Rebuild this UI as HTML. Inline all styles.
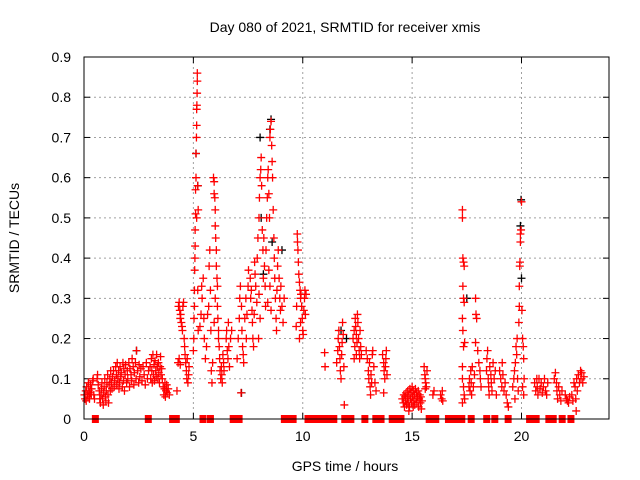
<!DOCTYPE html>
<html><head><meta charset="utf-8"><style>
html,body{margin:0;padding:0;background:#fff;}
svg{display:block;font-family:"Liberation Sans",sans-serif;}
</style></head><body>
<svg id="chart" width="640" height="480" viewBox="0 0 640 480" xmlns="http://www.w3.org/2000/svg">
<rect width="640" height="480" fill="#fff"/>
<text x="345" y="32" font-size="14" text-anchor="middle" fill="#000">Day 080 of 2021, SRMTID for receiver xmis</text>
<text x="345" y="471" font-size="14" text-anchor="middle" fill="#000">GPS time / hours</text>
<text transform="translate(19,238) rotate(-90)" font-size="14" text-anchor="middle" fill="#000">SRMTID / TECUs</text>
<g id="grid"></g>
<g id="ticks"></g>
<g id="black"></g>
<g id="red"></g>
<g id="gaps"></g>
<rect x="84" y="57" width="525" height="362" fill="none" stroke="#000" stroke-width="1"/>
</svg>
<script>
const xTicks = [0,5,10,15,20];
const yTicks = [0,0.1,0.2,0.3,0.4,0.5,0.6,0.7,0.8,0.9];
const yTickLabels = ["0","0.1","0.2","0.3","0.4","0.5","0.6","0.7","0.8","0.9"];
const redPoints = [
[0.02,.06],[0.05,.05],[0.08,.07],[0.1,.045],[0.12,.08],[0.15,.06],[0.18,.055],[0.2,.09],[0.22,.07],[0.25,.05],[0.28,.065],[0.3,.085],[0.33,.06],[0.35,.075],[0.4,.095],[0.42,.1],[0.45,.06],[0.48,.05],
[0.6,.1],[0.62,.11],[0.65,.085],[0.7,.07],[0.72,.05],[0.75,.04],[0.78,.06],[0.8,.075],[0.82,.09],[0.85,.05],[0.88,.035],[0.9,.065],[0.92,.08],[0.95,.1],[0.98,.055],[1.0,.045],[1.02,.07],[1.05,.09],[1.08,.11],[1.1,.06],[1.12,.04],[1.15,.085],[1.18,.1],[1.2,.07],[1.22,.12],[1.25,.09],[1.28,.075],[1.3,.105],
[1.35,.12],[1.38,.08],[1.4,.095],[1.45,.13],[1.48,.11],[1.5,.085],[1.52,.14],[1.55,.1],[1.58,.12],[1.6,.075],[1.62,.09],[1.65,.13],[1.68,.105],[1.7,.115],[1.75,.08],[1.78,.14],[1.8,.095],[1.82,.125],[1.85,.07],[1.88,.11],[1.9,.135],[1.95,.09],[1.98,.12],
[2.0,.1],[2.05,.14],[2.08,.08],[2.1,.125],[2.15,.11],[2.18,.095],[2.2,.15],[2.25,.13],[2.28,.085],[2.3,.115],[2.35,.14],[2.38,.1],[2.4,.17],[2.45,.12],[2.5,.09],[2.52,.135],[2.55,.105],[2.6,.125],[2.65,.095],[2.7,.13],[2.75,.11],[2.8,.085],[2.85,.14],[2.9,.1],[2.95,.12],
[3.02,.13],[3.05,.1],[3.08,.15],[3.1,.12],[3.12,.09],[3.15,.16],[3.18,.11],[3.2,.135],[3.22,.095],[3.25,.145],[3.28,.12],[3.3,.105],[3.32,.16],[3.35,.13],[3.38,.1],[3.4,.14],[3.42,.115],[3.45,.09],[3.48,.13],[3.5,.155],[3.52,.11],[3.55,.125],[3.58,.1],
[3.62,.08],[3.65,.06],[3.68,.075],[3.7,.09],[3.72,.055],[3.75,.07],[3.78,.085],[3.8,.065],[3.85,.075],[3.9,.06],
[4.25,.07],[4.3,.14],[4.35,.15],[4.4,.135],[4.32,.28],[4.35,.29],[4.38,.27],[4.4,.25],[4.42,.26],[4.45,.24],[4.48,.23],[4.5,.22],[4.52,.28],[4.55,.29],[4.58,.2],[4.6,.18],[4.62,.16],[4.65,.14],[4.68,.12],[4.7,.1],[4.72,.15],[4.75,.09],[4.78,.11],[4.8,.13],
[5.0,.17],[5.02,.2],[5.03,.25],[5.05,.28],[5.05,.32],[5.06,.37],[5.07,.4],[5.08,.43],[5.08,.47],[5.1,.51],[5.1,.57],[5.12,.6],[5.12,.66],[5.14,.7],[5.15,.73],[5.15,.77],[5.16,.78],[5.17,.81],[5.18,.84],[5.18,.86],[5.2,.58],[5.22,.52],[5.2,.32],[5.22,.22],[5.15,.5],
[5.3,.23],[5.35,.26],[5.38,.33],[5.4,.3],[5.45,.35],[5.48,.25],[5.5,.2],[5.55,.15],[5.6,.18],[5.65,.26],[5.7,.28],[5.72,.38],[5.75,.42],[5.78,.32],[5.8,.22],[5.82,.12],[5.85,.09],[5.88,.14],
[5.92,.6],[5.95,.59],[5.95,.56],[5.98,.55],[6.0,.52],[6.0,.48],[6.02,.45],[6.05,.42],[6.05,.38],[6.08,.35],[6.1,.33],[6.1,.28],[6.12,.25],[6.15,.22],[6.15,.2],[6.0,.3],[5.95,.24],[6.18,.18],[6.2,.15],[6.22,.12],[6.25,.1],[6.28,.13],[6.3,.11],[6.32,.09],[6.35,.16],[6.38,.14],[6.4,.12],
[6.5,.2],[6.52,.22],[6.55,.17],[6.58,.15],[6.6,.24],[6.62,.18],[6.65,.13],[6.7,.2],[6.75,.22],
[7.0,.15],[7.05,.2],[7.1,.25],[7.12,.3],[7.15,.33],[7.18,.065],[7.2,.28],[7.22,.22],[7.25,.18],[7.28,.16],[7.3,.14],[7.35,.25],[7.4,.3],[7.42,.2],[7.45,.26],[7.5,.33],[7.52,.37],
[7.6,.35],[7.62,.3],[7.65,.32],[7.68,.27],[7.7,.24],[7.72,.2],[7.75,.18],[7.78,.26],[7.8,.39],[7.82,.36],[7.85,.33],[7.9,.29],[7.92,.4],[7.95,.45],[8.0,.5],[8.02,.55],[8.05,.6],[8.08,.62],[8.1,.65],[8.12,.58],[8.15,.47],[8.18,.42],[8.2,.35],[8.05,.25],[8.0,.31],[7.98,.2],
[8.22,.45],[8.25,.38],[8.28,.33],[8.3,.28],[8.32,.42],[8.35,.5],[8.38,.55],[8.4,.6],[8.42,.62],[8.45,.56],[8.48,.5],[8.5,.7],[8.52,.72],[8.55,.74],[8.58,.68],[8.6,.64],[8.62,.6],[8.65,.52],[8.68,.45],[8.7,.4],[8.72,.35],[8.75,.3],[8.78,.25],[8.8,.22],[8.82,.32],[8.85,.38],[8.88,.42],[8.4,.29],[8.45,.37],[8.5,.33],[8.55,.27],
[8.92,.35],[8.95,.3],[8.98,.27],[9.0,.33],[9.05,.28],[9.1,.24],[9.15,.3],
[9.7,.23],[9.72,.28],[9.75,.46],[9.76,.44],[9.78,.42],[9.8,.39],[9.82,.36],[9.85,.34],[9.88,.32],[9.9,.3],[9.92,.31],[9.95,.28],[9.98,.25],[10.0,.22],[10.02,.21],[10.05,.27],[10.08,.3],[10.1,.32],[10.12,.26],[10.15,.31],[9.85,.2],[9.9,.24],
[11.0,.165],[11.02,.13],
[11.55,.14],[11.6,.17],[11.62,.2],[11.65,.22],[11.68,.18],[11.7,.15],[11.72,.12],[11.75,.1],[11.78,.16],[11.8,.19],[11.82,.24],[11.85,.21],[11.9,.035],[11.88,.13],
[12.3,.2],[12.35,.22],[12.38,.18],[12.4,.25],[12.42,.23],[12.45,.21],[12.48,.19],[12.5,.26],[12.52,.24],[12.55,.2],[12.58,.17],[12.6,.15],[12.62,.22],[12.65,.18],[12.68,.16],[12.35,.15],[12.45,.16],
[12.9,.17],[12.95,.15],[13.0,.12],[13.02,.1],[13.05,.14],[13.08,.08],[13.1,.06],[13.12,.11],[13.15,.09],[13.18,.16],[13.2,.17],[13.25,.13],[13.3,.09],[13.35,.07],
[13.65,.16],[13.7,.14],[13.72,.12],[13.75,.1],[13.78,.13],[13.8,.15],[13.82,.17],[13.85,.11],[13.7,.065],
[14.55,.05],[14.6,.04],[14.62,.06],[14.65,.03],[14.68,.055],[14.7,.045],[14.72,.065],[14.75,.035],[14.78,.05],[14.8,.07],[14.82,.04],[14.85,.06],[14.88,.03],[14.9,.075],[14.92,.05],[14.95,.065],[14.98,.04],[15.0,.08],[15.02,.055],[15.05,.07],[15.08,.045],[15.1,.06],[15.12,.035],[15.15,.075],[15.18,.05],[15.2,.065],[15.22,.04],[15.25,.055],[15.28,.07],[15.3,.03],[15.32,.05],[15.35,.06],[15.38,.04],[15.4,.055],[15.42,.025],[15.45,.045],[14.85,.02],[15.05,.03],
[15.55,.13],[15.58,.11],[15.6,.1],[15.62,.09],[15.65,.08],[15.68,.12],[15.6,.075],
[15.95,.06],[16.0,.07],[16.3,.06],[16.35,.05],[16.4,.045],[16.38,.07],
[17.3,.52],[17.3,.5],[17.32,.4],[17.35,.39],[17.38,.38],[17.32,.33],[17.35,.3],[17.38,.29],[17.3,.25],[17.32,.22],[17.4,.19],[17.35,.18],[17.3,.13],[17.3,.1],[17.35,.08],[17.38,.06],[17.3,.04],[17.4,.05],
[17.6,.08],[17.62,.1],[17.65,.07],[17.68,.12],[17.7,.09],[17.72,.06],[17.75,.13],[17.8,.08],[17.85,.11],[17.9,.3],[17.92,.26],[17.95,.25],[17.9,.19],[18.0,.17],[18.05,.14],[18.1,.12],[18.12,.1],[18.15,.08],
[18.4,.12],[18.42,.15],[18.45,.17],[18.48,.1],[18.5,.08],[18.52,.06],[18.55,.13],[18.6,.11],[18.62,.09],[18.65,.07],[18.7,.14],[18.75,.1],[18.8,.12],[18.85,.06],
[19.0,.12],[19.05,.1],[19.1,.08],[19.12,.14],[19.15,.11],[19.2,.07],[19.25,.09],[19.3,.06],[19.35,.04],[19.4,.03],
[19.6,.08],[19.65,.1],[19.68,.12],[19.7,.05],[19.72,.14],[19.75,.18],[19.78,.16],[19.8,.2],[19.82,.1],[19.85,.07],[19.88,.24],[19.9,.28],[19.9,.33],[19.92,.38],[19.93,.39],[19.95,.44],[19.95,.46],[19.98,.47],[20.0,.54],[20.02,.27],[20.05,.2],[20.08,.18],[20.1,.15],[20.12,.1],[20.05,.08],[20.1,.06],
[20.6,.09],[20.65,.07],[20.7,.1],[20.72,.08],[20.75,.06],[20.8,.1],[20.85,.075],[20.9,.09],[20.95,.065],[21.0,.08],[21.05,.1],[21.1,.07],[21.15,.06],[21.2,.09],
[21.5,.1],[21.55,.115],[21.6,.09],[21.62,.07],[21.65,.05],[21.7,.08],[21.75,.06],[21.8,.045],[21.85,.07],
[22.0,.06],[22.05,.05],[22.1,.045],[22.15,.04],[22.2,.055],[22.3,.06],[22.35,.045],[22.4,.09],[22.45,.08],[22.48,.05],[22.5,.02],[22.52,.1],[22.55,.07],[22.6,.11],[22.65,.09],[22.7,.12],[22.72,.1],[22.75,.115],[22.8,.09],[22.85,.105]
];
const blackPoints = [
[5.12,.66],[5.2,.58],[8.55,.745],[8.5,.72],[8.05,.7],[8.1,.5],[8.6,.44],[19.98,.545],[19.95,.48],[20.0,.35],[12.0,.2],[11.75,.22],[2.4,.17],[7.2,.065],[8.2,.36],[9.05,.42],[17.5,.3]
];
const gapTimes = [0.52,2.94,4.05,4.22,5.44,5.78,6.82,7.09,9.16,9.26,9.56,10.24,10.44,10.71,10.88,11.15,11.42,11.92,12.2,12.84,13.34,13.58,14.09,14.26,14.49,15.78,16.08,16.66,16.79,17.03,17.27,17.7,18.41,18.78,19.39,20.37,20.67,21.25,21.45,21.86,22.26];

const X0=84, X1=609, Y0=419, Y1=57, XMAX=24, YMAX=0.9;
function xs(t){return X0+(X1-X0)*t/XMAX;}
function ys(v){return Y0-(Y0-Y1)*v/YMAX;}
const NS="http://www.w3.org/2000/svg";
function mk(tag,attrs,parent){const e=document.createElementNS(NS,tag);for(const k in attrs)e.setAttribute(k,attrs[k]);parent.appendChild(e);return e;}
const grid=document.getElementById('grid'), ticks=document.getElementById('ticks');
yTicks.forEach((v,i)=>{
  const y=ys(v);
  if(v>0&&v<YMAX){
    const g=mk('line',{x1:X0,x2:X1,y1:y,y2:y,stroke:'#a0a0a0','stroke-width':1,'stroke-dasharray':'2,3'},grid);
    
    
  }
  const t1=mk('line',{x1:X0,x2:X0+6,y1:y,y2:y,stroke:'#000'},ticks);
  
  
  const t2=mk('line',{x1:X1-6,x2:X1,y1:y,y2:y,stroke:'#000'},ticks);
  
  
  const tx=mk('text',{x:X0-13,y:y+5,'font-size':14,'text-anchor':'end',fill:'#000'},ticks);
  tx.textContent=yTickLabels[i];
  
  
});
xTicks.forEach(t=>{
  const x=xs(t);
  if(t>0){
    const g=mk('line',{x1:x,x2:x,y1:Y1,y2:Y0,stroke:'#a0a0a0','stroke-width':1,'stroke-dasharray':'2,3'},grid);
    
    
  }
  const t1=mk('line',{x1:x,x2:x,y1:Y0-6,y2:Y0,stroke:'#000'},ticks);
  
  
  const t2=mk('line',{x1:x,x2:x,y1:Y1,y2:Y1+6,stroke:'#000'},ticks);
  
  
  const tx=mk('text',{x:x,y:Y0+22,'font-size':14,'text-anchor':'middle',fill:'#000'},ticks);
  tx.textContent=String(t);
  
  
});
function plus(g,p,color){
  const x=xs(p[0]), y=ys(p[1]);
  const e=mk('path',{d:'M'+(x-4)+' '+y+'H'+(x+4)+'M'+x+' '+(y-4)+'V'+(y+4),stroke:color,'stroke-width':1.3,fill:'none'},g);
  return e;
}
const bg=document.getElementById('black');
blackPoints.forEach(p=>{
  const e=plus(bg,p,'#000');
  
  
});
const rg=document.getElementById('red');
redPoints.forEach(p=>{
  const e=plus(rg,p,'#ff0000');
  
  
});
const gg=document.getElementById('gaps');
gapTimes.forEach(t=>{
  const e=mk('rect',{x:xs(t)-3.5,y:Y0-4,width:7,height:8,fill:'#ff0000'},gg);
  
  
});
</script>
</body></html>
